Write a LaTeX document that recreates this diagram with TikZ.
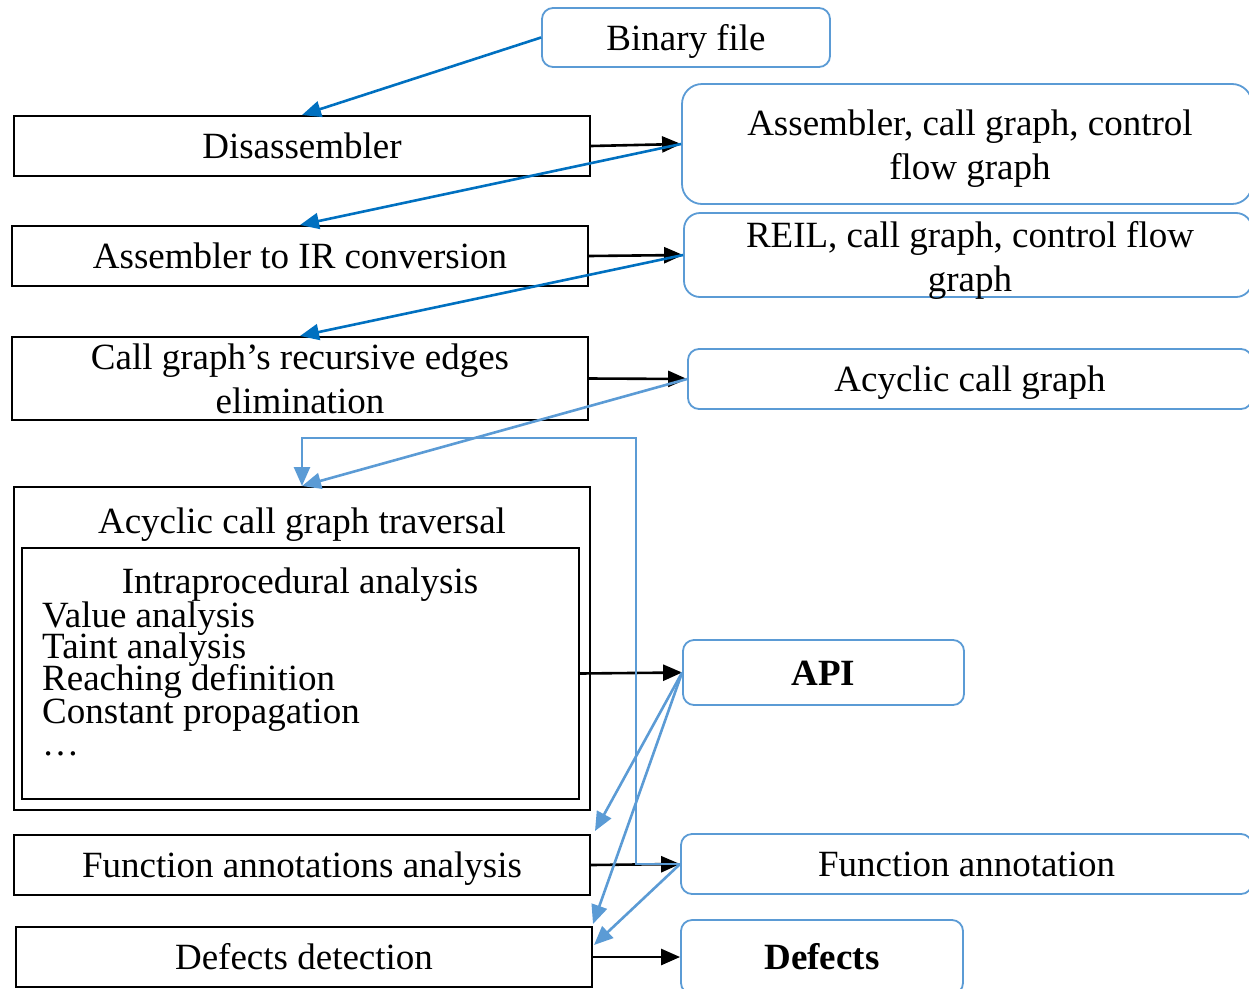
\documentclass[tikz,border=0pt]{standalone}
\usepackage{fontspec}
\setmainfont{Liberation Serif}
\usetikzlibrary{arrows.meta}
\definecolor{dblue}{HTML}{0070C0}
\definecolor{lblue}{HTML}{5B9BD5}
\begin{document}
\begin{tikzpicture}[x=1pt,y=-1pt,
  every node/.style={font=\fontsize{37}{44}\selectfont, inner sep=0pt, align=center},
  one/.style={text height=25pt, text depth=0pt},
  bbox/.style={draw=black, line width=2pt, rectangle},
  rbox/.style={draw=lblue, line width=1.8pt, rectangle, rounded corners=11pt},
  arr/.style={line width=2.6pt, -{Triangle[length=19pt,width=16pt]}},
  darr/.style={arr, draw=dblue},
  larr/.style={arr, draw=lblue},
  listline/.style={anchor=base west, font=\fontsize{37}{32}\selectfont}
]
\useasboundingbox (0,0) rectangle (1249,988);
\clip (0,0) rectangle (1249,988);

% right column
\node[rbox, one, minimum width=288, minimum height=59] (bin) at (686,37.5) {Binary file};
\node[rbox, rounded corners=20pt, minimum width=570, minimum height=120] (asm) at (967,144) {};
\node[anchor=north] (asmt) at (970,105) {\rule{0pt}{30pt}Assembler, call graph, control\\flow graph};
\node[rbox, rounded corners=16pt, minimum width=568, minimum height=84] (reil) at (968,255) {};
\node[anchor=north] (reilt) at (970,217) {\rule{0pt}{30pt}REIL, call graph, control flow\\graph};
\node[rbox, one, minimum width=564, minimum height=60] (acg) at (970,379) {Acyclic call graph};
\node[rbox, one, minimum width=281, minimum height=65] (api) at (823.5,672.5) {\bfseries API};
\node[rbox, one, minimum width=571, minimum height=60] (fann) at (966.5,864) {Function annotation};
\node[rbox, one, minimum width=282, minimum height=74] (def) at (822,957) {\bfseries Defects};

% left column
\node[bbox, one, minimum width=576, minimum height=60] (dis) at (302,146) {Disassembler};
\node[bbox, one, minimum width=576, minimum height=60] (ir) at (300,256) {Assembler to IR conversion};
\node[bbox, minimum width=576, minimum height=83] (rec) at (300,378.5) {Call graph’s recursive edges\\elimination};
\node[bbox, minimum width=576, minimum height=323] (trav) at (302,648.5) {};
\node[anchor=base] (travt) at (302,533) {Acyclic call graph traversal};
\node[bbox, minimum width=557, minimum height=251] (inner) at (300.5,673.5) {};
\node[anchor=base] (intra) at (300,593) {Intraprocedural analysis};
\node[listline] (l1) at (42,627) {Value analysis};
\node[listline] (l2) at (42,658) {Taint analysis};
\node[listline] (l3) at (42,690) {Reaching definition};
\node[listline] (l4) at (42,723) {Constant propagation};
\node[listline] (l5) at (42,755) {…};
\node[bbox, one, minimum width=576, minimum height=60] (faa) at (302,865) {Function annotations analysis};
\node[bbox, one, minimum width=576, minimum height=60] (dd) at (304,957) {Defects detection};

% black arrows
\draw[arr] (dis.east) -- (asm.west);
\draw[arr] (ir.east) -- (reil.west);
\draw[arr] (rec.east) -- (acg.west);
\draw[arr] (inner.east) -- (api.west);
\draw[arr] (faa.east) -- (fann.west);
\draw[arr] (dd.east) -- (def.west);

% dark blue arrows
\draw[darr] (bin.west) -- (dis.north);
\draw[darr] (asm.west) -- (ir.north);
\draw[darr] (reil.west) -- (rec.north);

% light blue arrows
\coordinate (loopR) at (636,438);
\draw[larr] (acg.west) -- (trav.north);
\draw[larr] (fann.west) -| (loopR) -| (trav.north);
\draw[larr] (api.west) -- ([shift={(4,-3)}]faa.north east);
\draw[larr] (api.west) -- ([shift={(0,-2)}]dd.north east);
\draw[larr] (fann.west) -- ([shift={(1,-12)}]dd.east);
\end{tikzpicture}
\end{document}
